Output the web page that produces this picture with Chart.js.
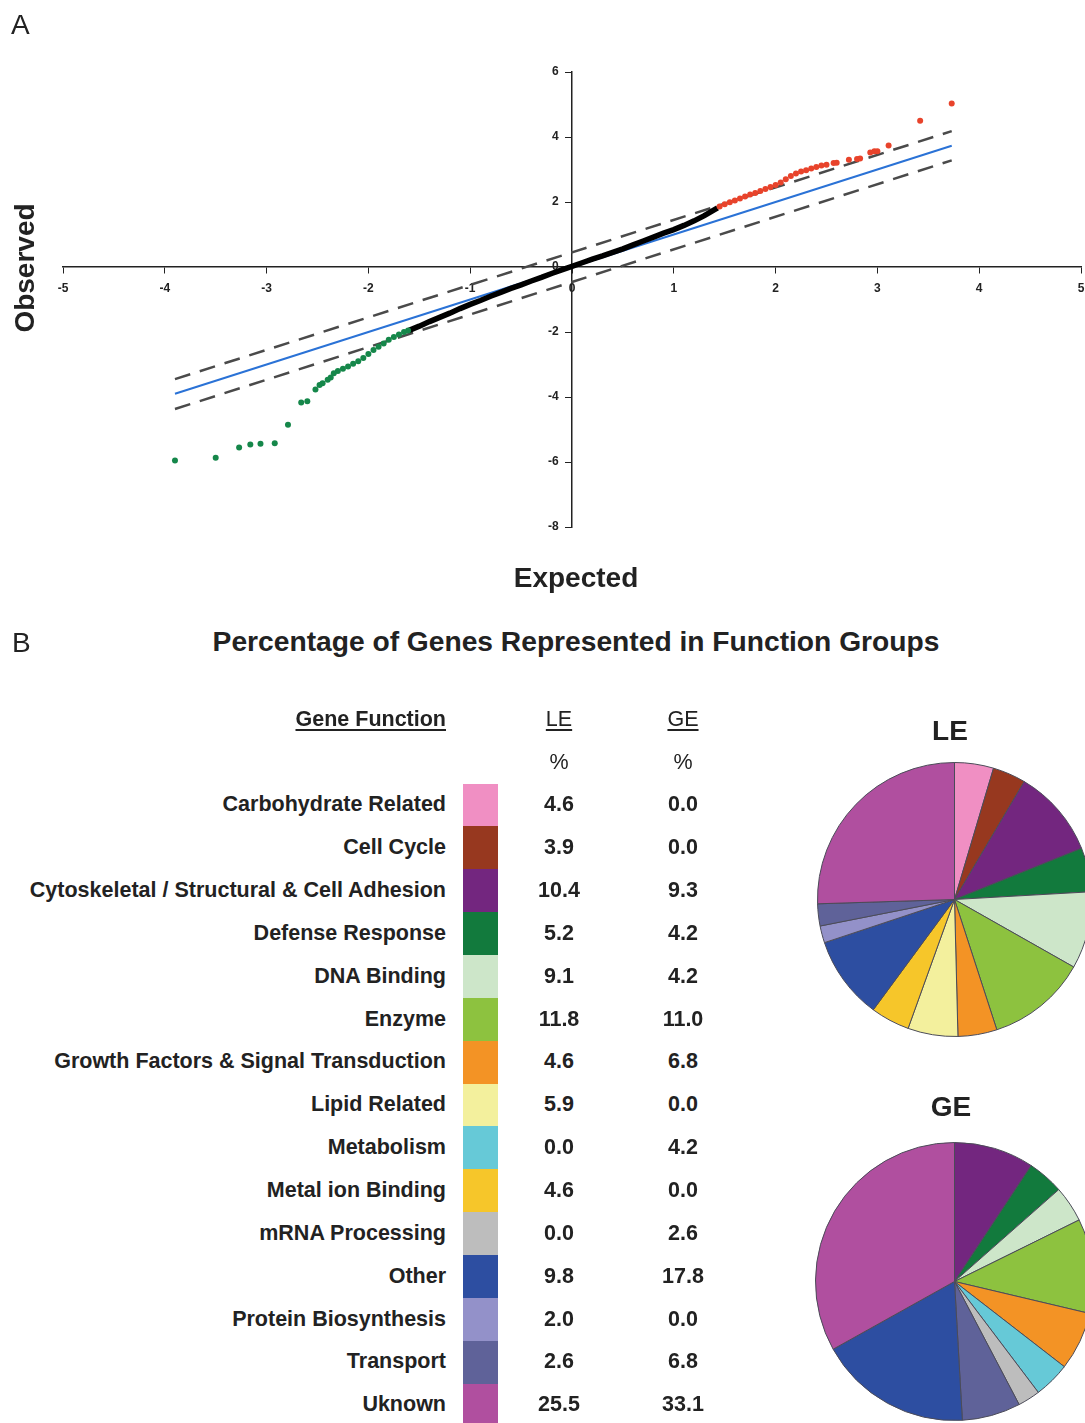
<!DOCTYPE html>
<html>
<head>
<meta charset="utf-8">
<script src="https://cdn.jsdelivr.net/npm/chart.js@4.4.1/dist/chart.umd.min.js"></script>
<style>
  html, body { margin: 0; padding: 0; background: #fff; }
  #page { position: relative; width: 1085px; height: 1423px; overflow: hidden;
          font-family: "Liberation Sans", Arial, sans-serif; color: #222; }
  .txt { position: absolute; white-space: nowrap; }
  .bold { font-weight: bold; }
  .ul { text-decoration: underline; text-underline-offset: 3px; text-decoration-thickness: 1.5px; }
  canvas { position: absolute; }
</style>
</head>
<body>
<div id="page">
  <canvas id="qq" width="1085" height="600" style="left:0;top:0"></canvas>
  <canvas id="pieLE" width="275" height="275" style="left:817px;top:762px"></canvas>
  <canvas id="pieGE" width="279" height="279" style="left:815px;top:1142px"></canvas>
</div>
<script>
// ---- panel A: normal probability plot ----
const refExpected = [-3.9, 3.73];
const refObserved = [-3.9, 3.73];
const bandUpper = [-3.45, 4.18];
const bandLower = [-4.37, 3.28];

// central genes (black band)
const midExpected = [-1.6, -1.5, -1.4, -1.3, -1.2, -1.1, -1.0, -0.9, -0.8, -0.7, -0.6, -0.5, -0.4, -0.3, -0.2, -0.1,
  0.0, 0.1, 0.2, 0.3, 0.4, 0.5, 0.6, 0.7, 0.8, 0.9, 1.0, 1.1, 1.2, 1.3, 1.43];
const midObserved = [-1.95, -1.82, -1.68, -1.55, -1.42, -1.28, -1.15, -1.03, -0.9, -0.78, -0.66, -0.55, -0.43, -0.32, -0.2, -0.09,
  0.02, 0.13, 0.24, 0.34, 0.45, 0.56, 0.68, 0.8, 0.92, 1.04, 1.15, 1.28, 1.42, 1.58, 1.82];

// upregulated tail (red)
const highExpected = [1.45, 1.5, 1.55, 1.6, 1.65, 1.7, 1.75, 1.8, 1.85, 1.9, 1.95, 2.0, 2.05, 2.1, 2.15, 2.2, 2.25,
  2.3, 2.35, 2.4, 2.45, 2.5, 2.57, 2.6, 2.72, 2.8, 2.83, 2.93, 2.97, 3.0, 3.11, 3.42, 3.73];
const highObserved = [1.86, 1.93, 1.99, 2.05, 2.11, 2.17, 2.23, 2.28, 2.34, 2.4, 2.46, 2.52, 2.6, 2.7, 2.8, 2.88, 2.94,
  2.98, 3.03, 3.08, 3.12, 3.15, 3.2, 3.21, 3.3, 3.32, 3.34, 3.52, 3.56, 3.56, 3.74, 4.5, 5.03];

// downregulated tail (green)
const lowExpected = [-1.61, -1.65, -1.7, -1.75, -1.8, -1.85, -1.9, -1.95, -2.0, -2.05, -2.1, -2.15, -2.2, -2.25, -2.3,
  -2.34, -2.37, -2.4, -2.45, -2.48, -2.52, -2.6, -2.66, -2.79, -2.92, -3.06, -3.16, -3.27, -3.5, -3.9];
const lowObserved = [-1.95, -2.0, -2.08, -2.15, -2.24, -2.35, -2.45, -2.55, -2.68, -2.8, -2.9, -2.98, -3.06, -3.13, -3.2,
  -3.27, -3.4, -3.47, -3.58, -3.63, -3.77, -4.13, -4.17, -4.85, -5.42, -5.44, -5.46, -5.55, -5.87, -5.95];

// ---- panel B: function groups ----
const categories = ['Carbohydrate Related', 'Cell Cycle', 'Cytoskeletal / Structural & Cell Adhesion', 'Defense Response',
  'DNA Binding', 'Enzyme', 'Growth Factors & Signal Transduction', 'Lipid Related', 'Metabolism', 'Metal ion Binding',
  'mRNA Processing', 'Other', 'Protein Biosynthesis', 'Transport', 'Uknown'];
const lePercent = [4.6, 3.9, 10.4, 5.2, 9.1, 11.8, 4.6, 5.9, 0.0, 4.6, 0.0, 9.8, 2.0, 2.6, 25.5];
const gePercent = [0.0, 0.0, 9.3, 4.2, 4.2, 11.0, 6.8, 0.0, 4.2, 0.0, 2.6, 17.8, 0.0, 6.8, 33.1];
const groupColors = ['#f08fc3', '#97381f', '#73267f', '#127a3d', '#cde6c9', '#8dc23f', '#f39325', '#f3f09d',
  '#66c9d7', '#f6c62a', '#bdbdbd', '#2d4ea1', '#9391c9', '#5f6299', '#b04f9f'];
const lePieOrder = [0, 1, 2, 3, 4, 5, 6, 7, 8, 9, 10, 11, 12, 13, 14];
const gePieOrder = [0, 1, 2, 3, 4, 5, 6, 7, 8, 9, 10, 13, 11, 12, 14];

const FONT = '"Liberation Sans", Arial, sans-serif';
const page = document.getElementById('page');

// put a line of text with its middle at y
function addText(str, opts) {
  const el = document.createElement('div');
  el.className = 'txt ' + (opts.cls || '');
  el.textContent = str;
  const size = opts.size;
  el.style.fontSize = size + 'px';
  el.style.lineHeight = size + 'px';
  el.style.top = (opts.y - size / 2) + 'px';
  if (opts.align === 'right') {
    el.style.left = '0px';
    el.style.width = opts.x + 'px';
    el.style.textAlign = 'right';
  } else if (opts.align === 'center') {
    el.style.left = (opts.x - 500) + 'px';
    el.style.width = '1000px';
    el.style.textAlign = 'center';
  } else {
    el.style.left = opts.x + 'px';
  }
  if (opts.rotate) el.style.transform = 'rotate(-90deg)';
  page.appendChild(el);
  return el;
}

function zip(xs, ys) {
  return xs.map((x, i) => ({ x: x, y: ys[i] }));
}

// centred axes should not eat layout space
function zeroFit(scale) {
  if (scale.isHorizontal()) scale.height = 0; else scale.width = 0;
  scale.paddingLeft = 0; scale.paddingRight = 0; scale.paddingTop = 0; scale.paddingBottom = 0;
}

const tickFont = { family: FONT, size: 12, weight: 'bold' };

new Chart(document.getElementById('qq'), {
  type: 'scatter',
  data: {
    datasets: [
      { label: 'Up', data: zip(highExpected, highObserved), backgroundColor: '#e8432b', borderWidth: 0, pointRadius: 3 },
      { label: 'Down', data: zip(lowExpected, lowObserved), backgroundColor: '#15874a', borderWidth: 0, pointRadius: 3 },
      { label: 'Middle', data: zip(midExpected, midObserved), showLine: true, borderColor: '#000', borderWidth: 5.5, pointRadius: 0 },
      { label: 'Expected', data: zip(refExpected, refObserved), showLine: true, borderColor: '#2a72d6', borderWidth: 2, pointRadius: 0 },
      { label: 'Upper', data: zip(refExpected, bandUpper), showLine: true, borderColor: '#4a4a4a', borderWidth: 2.5, borderDash: [16, 10], pointRadius: 0 },
      { label: 'Lower', data: zip(refExpected, bandLower), showLine: true, borderColor: '#4a4a4a', borderWidth: 2.5, borderDash: [16, 10], pointRadius: 0 }
    ]
  },
  options: {
    responsive: false,
    animation: false,
    layout: { padding: { left: 63, right: 0, top: 72, bottom: 73 } },
    plugins: { legend: { display: false }, tooltip: { enabled: false } },
    scales: {
      x: {
        type: 'linear', min: -5, max: 5, position: { y: 0 },
        ticks: { stepSize: 1, font: tickFont, color: '#222', padding: 8, maxRotation: 0 },
        grid: { drawOnChartArea: false, drawTicks: true, tickLength: 6, color: '#222' },
        border: { color: '#222', width: 1.5 },
        afterFit: zeroFit
      },
      y: {
        type: 'linear', min: -8, max: 6, position: { x: 0 },
        // labels of a value-positioned y axis sit on the line, so pad them with figure spaces
        ticks: { stepSize: 2, font: tickFont, color: '#222', callback: v => v + '\u2007\u2007' },
        grid: { drawOnChartArea: false, drawTicks: true, tickLength: 6, color: '#222' },
        border: { color: '#222', width: 1.5 },
        afterFit: zeroFit
      }
    }
  }
});

addText('A', { x: 11, y: 25, size: 28 });
addText('Observed', { x: 25, y: 268, size: 28, cls: 'bold', align: 'center', rotate: true });
addText('Expected', { x: 576, y: 578, size: 28, cls: 'bold', align: 'center' });

// ---- panel B table ----
addText('B', { x: 12, y: 643, size: 28 });
addText('Percentage of Genes Represented in Function Groups', { x: 576, y: 641, size: 28.2, cls: 'bold', align: 'center' });

const labelRight = 446, leX = 559, geX = 683, rowTop = 805, rowStep = 42.86, cellSize = 21.5;
addText('Gene Function', { x: labelRight, y: 720, size: cellSize, cls: 'bold ul', align: 'right' });
addText('LE', { x: leX, y: 720, size: cellSize, cls: 'ul', align: 'center' });
addText('GE', { x: geX, y: 720, size: cellSize, cls: 'ul', align: 'center' });
addText('%', { x: leX, y: 763, size: cellSize, align: 'center' });
addText('%', { x: geX, y: 763, size: cellSize, align: 'center' });

categories.forEach((name, i) => {
  const y = rowTop + i * rowStep;
  addText(name, { x: labelRight, y: y, size: cellSize, cls: 'bold', align: 'right' });
  addText(lePercent[i].toFixed(1), { x: leX, y: y, size: cellSize, cls: 'bold', align: 'center' });
  addText(gePercent[i].toFixed(1), { x: geX, y: y, size: cellSize, cls: 'bold', align: 'center' });
  const sw = document.createElement('div');
  sw.style.position = 'absolute';
  sw.style.left = '463px';
  sw.style.width = '35px';
  sw.style.top = (y - rowStep / 2) + 'px';
  sw.style.height = (rowStep + 0.5) + 'px';
  sw.style.background = groupColors[i];
  page.appendChild(sw);
});

// ---- pies ----
function makePie(id, values, order) {
  new Chart(document.getElementById(id), {
    type: 'pie',
    data: {
      labels: order.map(i => categories[i]),
      datasets: [{
        data: order.map(i => values[i]),
        backgroundColor: order.map(i => groupColors[i]),
        borderColor: '#4b4b58',
        borderWidth: 1
      }]
    },
    options: {
      responsive: false,
      animation: false,
      layout: { padding: 0 },
      plugins: { legend: { display: false }, tooltip: { enabled: false } }
    }
  });
}
makePie('pieLE', lePercent, lePieOrder);
makePie('pieGE', gePercent, gePieOrder);
addText('LE', { x: 950, y: 731, size: 28, cls: 'bold', align: 'center' });
addText('GE', { x: 951, y: 1107, size: 28, cls: 'bold', align: 'center' });
</script>
</body>
</html>
